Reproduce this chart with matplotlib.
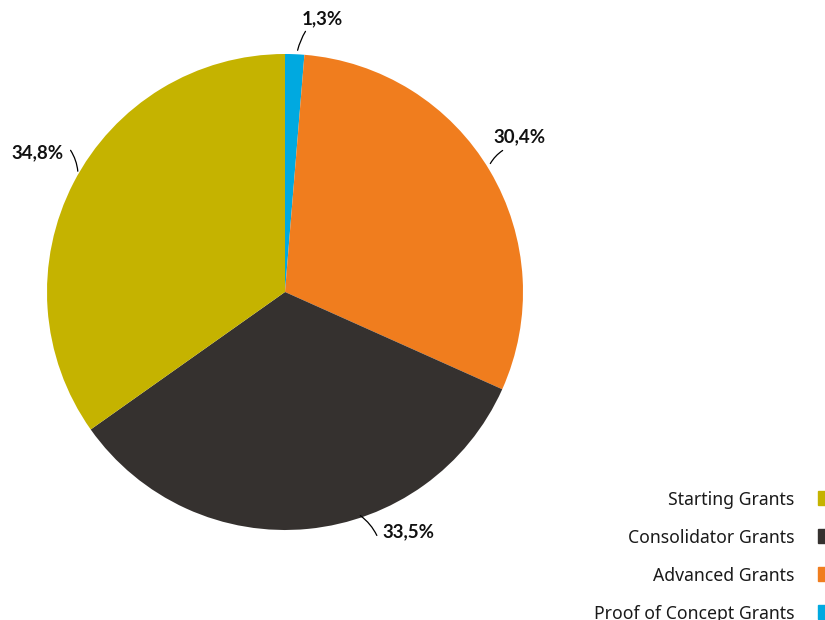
import matplotlib
matplotlib.use('Agg')
import matplotlib.pyplot as plt
from matplotlib.patches import Rectangle

labels = ['Proof of Concept Grants', 'Advanced Grants', 'Consolidator Grants', 'Starting Grants']
values = [1.3, 30.4, 33.5, 34.8]
colors = ['#00A9E0', '#F07D1E', '#35312F', '#C5B300']
pct_text = ['1,3%', '30,4%', '33,5%', '34,8%']

# label placement (pixel coords, y from top) and leader line ends
lab_pos = [(322, 19), (519, 137), (408, 532), (37, 153)]
line_from = [(297, 53), (489, 166), (358, 514), (78, 174)]
line_to = [(307, 29), (505, 149), (378, 538), (69, 148)]
rads = [0.1, 0.15, 0.15, -0.15]

legend_order = ['Starting Grants', 'Consolidator Grants', 'Advanced Grants', 'Proof of Concept Grants']
legend_y = [498, 536, 574, 612]

H = 620
fig = plt.figure(figsize=(8.25, 6.2), dpi=100)
ax = fig.add_axes([0, 0, 1, 1])

ax.pie(values, colors=colors, startangle=90, counterclock=False,
       center=(285, H - 292), radius=238, frame=True)
ax.set_xlim(0, 825)
ax.set_ylim(0, H)
ax.axis('off')

for i in range(len(values)):
    x0, y0 = line_from[i]
    x1, y1 = line_to[i]
    ax.annotate('', xy=(x0, H - y0), xytext=(x1, H - y1),
                arrowprops=dict(arrowstyle='-', color='black', lw=0.9,
                                connectionstyle='arc3,rad=%s' % rads[i]))
    lx, ly = lab_pos[i]
    ax.text(lx, H - ly, pct_text[i], ha='center', va='center',
            fontsize=13.5, fontweight='bold', family=['Lato', 'DejaVu Sans'], color='#111111')

for name, y in zip(legend_order, legend_y):
    c = colors[labels.index(name)]
    ax.text(794, H - y - 2, name, ha='right', va='center', fontsize=12.7,
            family='Noto Sans', color='#1a1a1a')
    ax.add_patch(Rectangle((818, H - y - 7), 7, 14, color=c))

fig.savefig('out.png', dpi=100)
